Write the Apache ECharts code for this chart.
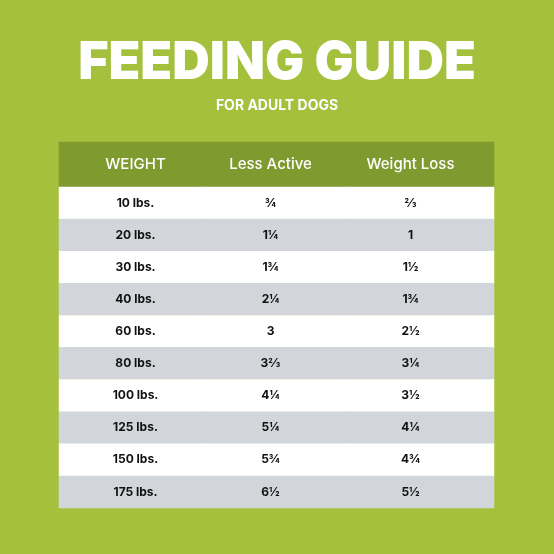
<!DOCTYPE html>
<html><head><meta charset="utf-8">
<script src="https://cdn.jsdelivr.net/npm/echarts@6/dist/echarts.min.js"></script>
<style>html,body{margin:0;padding:0;background:#a5c03d}#c{width:554px;height:554px}</style>
</head><body><div id="c"></div>
<script>
const columns = ['WEIGHT', 'Less Active', 'Weight Loss'];
const weights = ['10 lbs.', '20 lbs.', '30 lbs.', '40 lbs.', '60 lbs.', '80 lbs.', '100 lbs.', '125 lbs.', '150 lbs.', '175 lbs.'];
const lessActive = ['¾', '1¼', '1¾', '2¼', '3', '3⅔', '4¼', '5¼', '5¾', '6½'];
const weightLoss = ['⅔', '1', '1½', '1¾', '2½', '3¼', '3½', '4¼', '4¾', '5½'];

const cols = [weights, lessActive, weightLoss];
const shifts = [4, -6, -11];
const bodyData = [];
weights.forEach((w, r) => {
  cols.forEach((col, c) => {
    bodyData.push({ value: [c, r, 1], text: col[r],
      label: { offset: [shifts[c], 0] },
      itemStyle: { color: r % 2 ? '#d2d5d9' : '#ffffff' } });
  });
});
const headData = columns.map((t, c) => ({ value: [c, 0, 1], text: t, label: { offset: [shifts[c], 0] }, itemStyle: { color: '#7f9a2f' } }));
const font = 'Inter, "Noto Sans", sans-serif';
const chart = echarts.init(document.getElementById('c'));
chart.setOption({
  backgroundColor: '#a5c03d',
  title: [
    { text: 'FEEDING GUIDE', left: 'center', top: 32, textStyle: { color: '#fff', fontSize: 52, fontWeight: 900, fontFamily: font } },
    { text: 'FOR ADULT DOGS', left: 'center', top: 94, textStyle: { color: '#fff', fontSize: 14, fontWeight: 'bold', fontFamily: font } }
  ],
  grid: [
    { left: 59, right: 60, top: 142, height: 45 },
    { left: 59, right: 60, top: 187, height: 321 }
  ],
  xAxis: [
    { type: 'category', gridIndex: 0, data: columns, show: false },
    { type: 'category', gridIndex: 1, data: columns, show: false }
  ],
  yAxis: [
    { type: 'category', gridIndex: 0, data: ['h'], show: false },
    { type: 'category', gridIndex: 1, data: weights, inverse: true, show: false }
  ],
  series: [
    { type: 'heatmap', xAxisIndex: 0, yAxisIndex: 0, data: headData,
      label: { show: true, formatter: p => p.data.text, color: '#fff', fontSize: 15, fontWeight: 500, fontFamily: font } },
    { type: 'heatmap', xAxisIndex: 1, yAxisIndex: 1, data: bodyData,
      label: { show: true, formatter: p => p.data.text, color: '#111', fontSize: 12, fontWeight: 'bold', fontFamily: font } }
  ]
});
</script></body></html>
